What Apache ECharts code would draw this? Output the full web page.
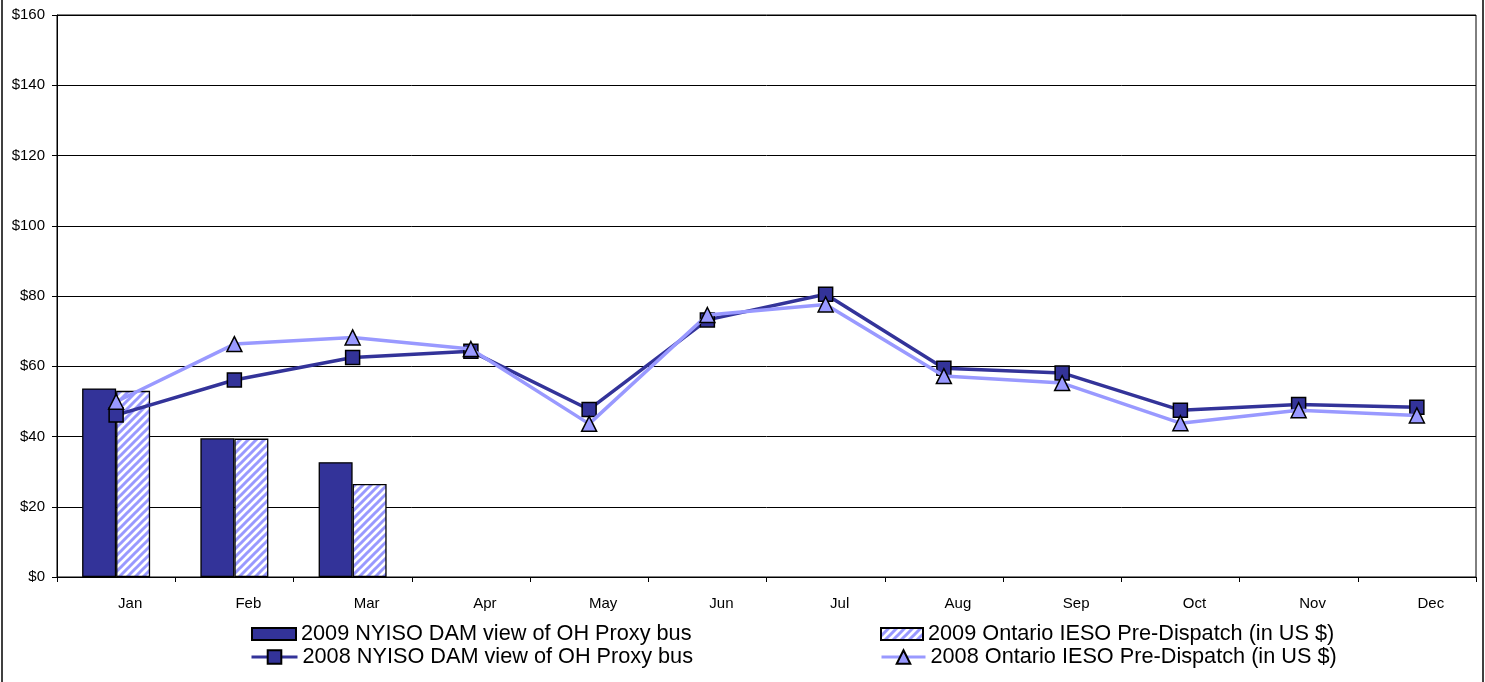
<!DOCTYPE html>
<html>
<head>
<meta charset="utf-8">
<script src="https://cdn.jsdelivr.net/npm/echarts@6/dist/echarts.min.js"></script>
<style>
html,body{margin:0;padding:0;background:#fff;}
#chart{width:1485px;height:682px;}
</style>
</head>
<body>
<div id="chart"></div>
<script>
var months = ['Jan','Feb','Mar','Apr','May','Jun','Jul','Aug','Sep','Oct','Nov','Dec'];
var nyiso2009 = [53.7, 39.5, 32.7];
var ieso2009 = [53.0, 39.4, 26.5];
var nyiso2008 = [46.1, 56.1, 62.5, 64.3, 47.7, 73.2, 80.5, 59.4, 58.1, 47.5, 49.1, 48.3];
var ieso2008 = [49.9, 66.3, 68.2, 64.9, 43.6, 74.6, 77.6, 57.2, 55.2, 43.8, 47.5, 46.0];
var seriesNames = [
  '2009 NYISO DAM view of OH Proxy bus',
  '2009 Ontario IESO Pre-Dispatch (in US $)',
  '2008 NYISO DAM view of OH Proxy bus',
  '2008 Ontario IESO Pre-Dispatch (in US $)'
];
var yTicks = {min: 0, max: 160, interval: 20};

var dark = '#333399';
var light = '#9999FF';

// diagonal hatch pattern
var pc = document.createElement('canvas');
pc.width = 8; pc.height = 8;
var pctx = pc.getContext('2d');
pctx.fillStyle = '#ffffff';
pctx.fillRect(0,0,8,8);
pctx.strokeStyle = light;
pctx.lineWidth = 3;
pctx.beginPath();
pctx.moveTo(-2,10); pctx.lineTo(10,-2);
pctx.moveTo(-6,6); pctx.lineTo(6,-6);
pctx.moveTo(2,14); pctx.lineTo(14,2);
pctx.stroke();
var hatch = {image: pc, repeat: 'repeat'};

var chart = echarts.init(document.getElementById('chart'), null, {renderer: 'canvas'});
var font = 'Arial, "Liberation Sans", sans-serif';

function legendAt(name, left, top, w, h, isLine) {
  var l = {
    data: [isLine ? name : {name: name, icon: 'rect'}], left: left, top: top, orient: 'horizontal',
    itemWidth: w, itemHeight: h, itemGap: 0, padding: 0,
    selectedMode: false,
    textStyle: {fontFamily: font, fontSize: 21.7, color: '#000', padding: [0,0,0,0]}
  };
  if (isLine) {
    l.lineStyle = {width: 3};
  }
  return l;
}

chart.setOption({
  backgroundColor: '#fff',
  animation: false,
  textStyle: {fontFamily: font},
  grid: {left: 57, right: 9, top: 15, bottom: 105, show: true, borderColor: '#000', borderWidth: 1, containLabel: false},
  graphic: [
    {type: 'line', shape: {x1: 2, y1: 0, x2: 2, y2: 682}, style: {stroke: '#000', lineWidth: 1.5}},
    {type: 'line', shape: {x1: 1483, y1: 0, x2: 1483, y2: 682}, style: {stroke: '#000', lineWidth: 1.5}}
  ],
  legend: [
    legendAt(seriesNames[0], 251, 623, 44, 12, false),
    legendAt(seriesNames[1], 880, 623, 42, 12, false),
    legendAt(seriesNames[2], 250, 646, 46, 17, true),
    legendAt(seriesNames[3], 880, 646, 44, 17, true)
  ],
  xAxis: {
    type: 'category',
    data: months,
    boundaryGap: true,
    axisLine: {lineStyle: {color: '#000', width: 1}},
    axisTick: {show: true, length: 5, inside: false, lineStyle: {color: '#000'}},
    axisLabel: {color: '#000', fontSize: 15, fontFamily: font, margin: 19, padding: [0,0,0,28], interval: 0},
    splitLine: {show: false}
  },
  yAxis: {
    type: 'value',
    min: yTicks.min, max: yTicks.max, interval: yTicks.interval,
    axisLine: {show: true, lineStyle: {color: '#000', width: 1}},
    axisTick: {show: true, length: 5, lineStyle: {color: '#000'}},
    axisLabel: {color: '#000', fontSize: 15, fontFamily: font, margin: 12, formatter: function(v){return '$' + v;}},
    splitLine: {show: true, lineStyle: {color: '#000', width: 1}}
  },
  series: [
    {
      name: seriesNames[0], type: 'bar', data: nyiso2009,
      barGap: '0%', barCategoryGap: '42.5%',
      itemStyle: {color: dark, borderColor: '#000', borderWidth: 1.3}
    },
    {
      name: seriesNames[1], type: 'bar', data: ieso2009,
      barGap: '0%', barCategoryGap: '42.5%',
      itemStyle: {color: hatch, borderColor: '#000', borderWidth: 1.3}
    },
    {
      name: seriesNames[2], type: 'line', data: nyiso2008,
      symbol: 'rect', symbolSize: 14,
      lineStyle: {color: dark, width: 3.5},
      itemStyle: {color: dark, borderColor: '#000', borderWidth: 1.5},
      z: 3
    },
    {
      name: seriesNames[3], type: 'line', data: ieso2008,
      symbol: 'triangle', symbolSize: 15,
      lineStyle: {color: light, width: 3.5},
      itemStyle: {color: light, borderColor: '#000', borderWidth: 1.5},
      z: 4
    }
  ]
});
</script>
</body>
</html>
